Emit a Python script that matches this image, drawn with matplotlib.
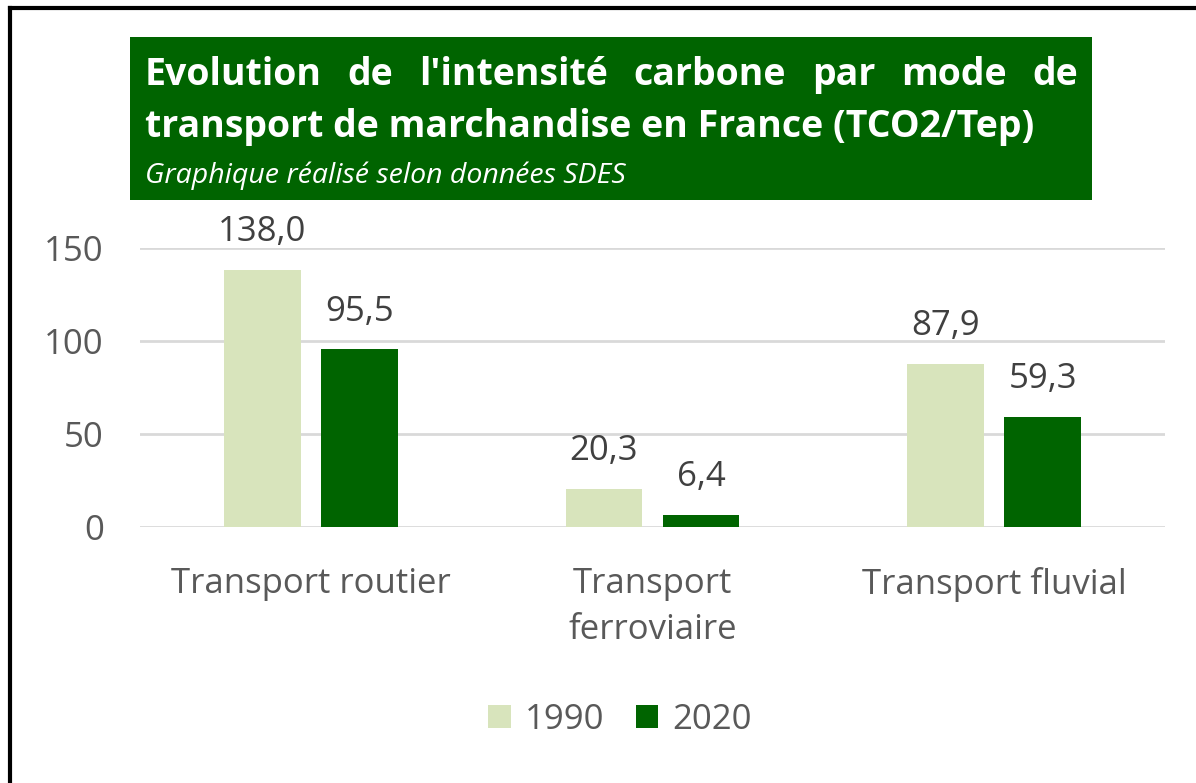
import matplotlib
matplotlib.use('Agg')
import matplotlib.pyplot as plt
import numpy as np
from matplotlib.patches import Rectangle
from matplotlib.lines import Line2D

# data
categories = ['Transport routier', 'Transport\nferroviaire', 'Transport fluvial']
years = ['1990', '2020']
values_1990 = [138.0, 20.3, 87.9]
values_2020 = [95.5, 6.4, 59.3]
yticks = [0, 50, 100, 150]

col_1990 = '#D8E4BC'
col_2020 = '#006400'
txt_grey = '#595959'
lab_grey = '#404040'

plt.rcParams['font.family'] = ['Open Sans', 'DejaVu Sans']

W, H = 1196, 783
fig = plt.figure(figsize=(W / 100, H / 100), dpi=100)

# black frame (only top and left visible)
fig.add_artist(Line2D([10 / W, 1], [1 - 8 / H, 1 - 8 / H], color='black', lw=3))
fig.add_artist(Line2D([10 / W, 10 / W], [0, 1 - 8 / H], color='black', lw=3))

# title box
fig.add_artist(Rectangle((130 / W, 1 - 200 / H), (1092 - 130) / W, 163 / H,
                         facecolor=col_2020, edgecolor='none'))

ax = fig.add_axes([140 / W, 1 - 527 / H, (1165 - 140) / W, (527 - 248) / H])
x = np.arange(len(categories))
bw = 0.225
off = 0.142
b1 = ax.bar(x - off, values_1990, bw, color=col_1990, label=years[0], zorder=3)
b2 = ax.bar(x + off, values_2020, bw, color=col_2020, label=years[1], zorder=3)

for bars, vals in [(b1, values_1990), (b2, values_2020)]:
    for r, v in zip(bars, vals):
        ax.annotate(f'{v:.1f}'.replace('.', ','), (r.get_x() + r.get_width() / 2, v),
                    xytext=(0, 15), textcoords='offset points', ha='center', va='bottom',
                    fontsize=25, color=lab_grey)

ax.set_xlim(-0.5, 2.5)
ax.set_ylim(0, 150)
ax.set_yticks(yticks)
ax.set_yticklabels([str(t) for t in yticks])
ax.set_xticks(x)
ax.set_xticklabels(categories, linespacing=1.45)
ax.tick_params(axis='both', length=0, labelsize=25, labelcolor=txt_grey)
ax.tick_params(axis='y', pad=26)
ax.tick_params(axis='x', pad=29)
ax.grid(axis='y', color='#D9D9D9', lw=2, zorder=0)
for s in ax.spines.values():
    s.set_visible(False)

leg = fig.legend(handles=[b1, b2], labels=years, loc='center', bbox_to_anchor=(620 / W, 1 - 720 / H),
                 ncol=2, frameon=False, fontsize=25, handlelength=0.65, handleheight=0.65,
                 handletextpad=0.4, columnspacing=0.9)
for t in leg.get_texts():
    t.set_color(txt_grey)

# title, first line justified across the box
fig.canvas.draw()
renderer = fig.canvas.get_renderer()
line1 = "Evolution de l'intensité carbone par mode de".split(' ')
x0, x1 = 145 / W, 1078 / W
words = [fig.text(0, 1 - 85 / H, w, color='white', fontsize=27, fontweight='bold', va='baseline')
         for w in line1]
widths = [t.get_window_extent(renderer).width / W for t in words]
gap = (x1 - x0 - sum(widths)) / (len(words) - 1)
pos = x0
for t, w in zip(words, widths):
    t.set_x(pos)
    pos += w + gap
fig.text(x0, 1 - 137 / H, 'transport de marchandise en France (TCO2/Tep)', color='white',
         fontsize=27, fontweight='bold', va='baseline')
fig.text(x0, 1 - 183 / H, 'Graphique réalisé selon données SDES', color='white',
         fontsize=20.5, style='italic', va='baseline')

fig.savefig('out.png', dpi=100)
